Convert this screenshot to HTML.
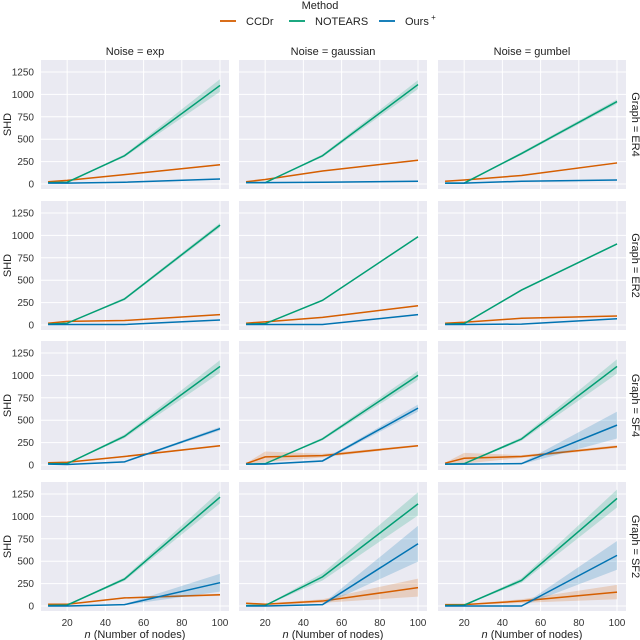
<!DOCTYPE html>
<html><head><meta charset="utf-8">
<style>
html,body{margin:0;padding:0;background:#fff;}
svg{display:block;font-family:"Liberation Sans","DejaVu Sans",sans-serif;}
</style></head>
<body>
<svg id="chart" width="640" height="640" viewBox="0 0 640 640" xmlns="http://www.w3.org/2000/svg">
  <g>
    <text x="320" y="9" font-size="11" text-anchor="middle" fill="#222">Method</text>
    <g>
      <line x1="220" y1="21" x2="236" y2="21" stroke="#d55e00" stroke-width="1.8"/>
      <text x="246" y="25" font-size="11" fill="#222">CCDr</text>
    </g>
    <g>
      <line x1="289" y1="21" x2="305" y2="21" stroke="#029e73" stroke-width="1.8"/>
      <text x="315" y="25" font-size="11" fill="#222">NOTEARS</text>
    </g>
    <g>
      <line x1="379" y1="21" x2="395" y2="21" stroke="#0173b2" stroke-width="1.8"/>
      <text x="405" y="25" font-size="11" fill="#222">Ours<tspan font-size="8" dy="-5"> +</tspan></text>
    </g>
  </g>
</svg>
<script>
const nodes = [10, 20, 50, 100];
const yTicks = [0, 250, 500, 750, 1000, 1250];
const xTicks = [20, 40, 60, 80, 100];
const noiseLabels = ["exp", "gaussian", "gumbel"];
const graphLabels = ["ER4", "ER2", "SF4", "SF2"];
const methods = ["CCDr", "NOTEARS", "Ours"];
const ccdrVals = [
  [[25,40,105,215],[25,50,145,265],[30,45,95,235]],
  [[20,40,50,115],[20,35,85,215],[20,30,75,100]],
  [[25,30,95,215],[15,90,105,215],[20,75,95,205]],
  [[20,20,90,125],[30,20,55,205],[15,15,55,155]]
];
const notearsVals = [
  [[15,20,315,1100],[15,15,315,1110],[10,10,340,920]],
  [[10,20,290,1115],[10,15,275,985],[10,15,390,905]],
  [[15,15,320,1100],[10,15,290,1000],[10,15,290,1100]],
  [[5,10,300,1215],[5,5,325,1140],[5,10,285,1200]]
];
const oursVals = [
  [[10,10,20,55],[15,15,20,30],[10,10,30,45]],
  [[5,5,5,55],[5,5,5,115],[5,5,10,70]],
  [[10,5,35,405],[10,10,45,635],[10,10,15,445]],
  [[0,0,15,260],[0,0,15,695],[0,0,0,565]]
];
const ccdrCI = [
  [[3,3,5,8],[3,3,5,8],[3,3,5,8]],
  [[3,3,4,6],[3,3,5,8],[3,3,4,6]],
  [[3,5,8,10],[5,60,20,10],[5,60,15,15]],
  [[3,3,8,12],[8,8,20,100],[5,5,20,80]]
];
const notearsCI = [
  [[2,3,15,70],[2,3,15,50],[2,3,15,25]],
  [[2,3,15,25],[2,3,10,10],[2,3,10,10]],
  [[2,3,20,70],[2,3,15,50],[2,3,20,80]],
  [[2,3,20,70],[2,3,40,130],[2,3,25,100]]
];
const oursCI = [
  [[2,2,3,5],[2,2,3,4],[2,2,3,5]],
  [[2,2,2,5],[2,2,2,8],[2,2,2,5]],
  [[2,2,8,20],[2,2,10,40],[2,2,8,150]],
  [[1,1,5,100],[1,1,8,200],[1,1,3,160]]
];
const colors = {CCDr:"#d55e00", NOTEARS:"#029e73", Ours:"#0173b2"};
const colLeft = [41, 239, 438], colW = 188;
const rowTop = [60, 201, 341, 482], rowH = 129;
const xMin = 6.3, xMax = 104.7, yMin = -56, yMax = 1384;
const NS = "http://www.w3.org/2000/svg";
const svg = document.getElementById("chart");
function mk(tag, attrs, parent){const e=document.createElementNS(NS,tag);for(const k in attrs)e.setAttribute(k,attrs[k]);(parent||svg).appendChild(e);return e;}
function xs(c,v){return colLeft[c]+(v-xMin)/(xMax-xMin)*colW;}
function ys(r,v){return rowTop[r]+rowH-(v-yMin)/(yMax-yMin)*rowH;}
const seriesVals = {CCDr:ccdrVals, NOTEARS:notearsVals, Ours:oursVals};
const seriesCI = {CCDr:ccdrCI, NOTEARS:notearsCI, Ours:oursCI};
for(let r=0;r<4;r++){
  for(let c=0;c<3;c++){
    const g = mk("g",{});
    
    
    mk("rect",{x:colLeft[c],y:rowTop[r],width:colW,height:rowH,fill:"#eaeaf2"},g);
    xTicks.forEach(t=>{mk("line",{x1:xs(c,t),x2:xs(c,t),y1:rowTop[r],y2:rowTop[r]+rowH,stroke:"#fff","stroke-width":1},g);});
    yTicks.forEach(t=>{mk("line",{x1:colLeft[c],x2:colLeft[c]+colW,y1:ys(r,t),y2:ys(r,t),stroke:"#fff","stroke-width":1},g);});
    methods.forEach(m=>{
      const v=seriesVals[m][r][c], ci=seriesCI[m][r][c];
      let up=nodes.map((n,i)=>xs(c,n)+","+ys(r,v[i]+ci[i]));
      let dn=nodes.map((n,i)=>xs(c,n)+","+ys(r,Math.max(yMin,v[i]-ci[i]))).reverse();
      const band=mk("polygon",{points:up.concat(dn).join(" "),fill:colors[m],"fill-opacity":0.2},g);
      
      
      const ln=mk("polyline",{points:nodes.map((n,i)=>xs(c,n)+","+ys(r,v[i])).join(" "),fill:"none",stroke:colors[m],"stroke-width":1.5},g);
      
      
    });
    if(c===0){
      yTicks.forEach(t=>{const tx=mk("text",{x:34,y:ys(r,t)+3.5,"font-size":10,"text-anchor":"end",fill:"#333"},g);tx.textContent=t;
        
        });
      const yl=mk("text",{x:0,y:0,"font-size":11,"text-anchor":"middle",fill:"#222",transform:`translate(11,${rowTop[r]+rowH/2}) rotate(-90)`},g);
      yl.textContent="SHD";
      
      
    }
    if(r===3){
      xTicks.forEach(t=>{const tx=mk("text",{x:xs(c,t),y:626,"font-size":10,"text-anchor":"middle",fill:"#333"},g);tx.textContent=t;
        
        });
      const xl=mk("text",{x:colLeft[c]+colW/2,y:638,"font-size":11,"text-anchor":"middle",fill:"#222"},g);
      xl.innerHTML='<tspan font-style="italic">n</tspan> (Number of nodes)';
      
      
    }
    if(r===0){
      const tt=mk("text",{x:colLeft[c]+colW/2,y:55,"font-size":11,"text-anchor":"middle",fill:"#222"},g);
      tt.textContent="Noise = "+noiseLabels[c];
      
      
    }
    if(c===2){
      const rt=mk("text",{x:0,y:0,"font-size":11,"text-anchor":"middle",fill:"#222",transform:`translate(632,${rowTop[r]+rowH/2}) rotate(90)`},g);
      rt.textContent="Graph = "+graphLabels[r];
      
      
    }
  }
}
</script>
</body></html>
